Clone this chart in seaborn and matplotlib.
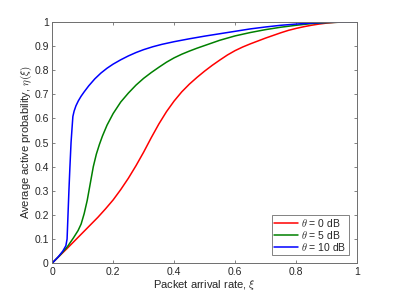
import numpy as np
import pandas as pd
import matplotlib
matplotlib.use('Agg')
import matplotlib.pyplot as plt
from matplotlib.ticker import FuncFormatter
import seaborn as sns

# 曲线数据
red_x = [0, 0.025, 0.05, 0.075, 0.1, 0.125, 0.15, 0.175, 0.2, 0.225, 0.25, 0.275,
         0.3, 0.325, 0.35, 0.375, 0.4, 0.425, 0.45, 0.475, 0.5, 0.525, 0.55, 0.575,
         0.6, 0.625, 0.65, 0.675, 0.7, 0.725, 0.75, 0.775, 0.8, 0.825, 0.85, 0.875,
         0.9, 0.925, 0.95, 1.0]
red_y = [0, 0.031, 0.062, 0.094, 0.126, 0.158, 0.19, 0.225, 0.262, 0.305, 0.352, 0.404,
         0.46, 0.52, 0.577, 0.628, 0.672, 0.71, 0.742, 0.77, 0.796, 0.82, 0.842, 0.863,
         0.881, 0.896, 0.909, 0.921, 0.933, 0.944, 0.955, 0.965, 0.973, 0.98, 0.986, 0.991,
         0.995, 0.998, 0.9995, 1.0]

green_x = [0, 0.025, 0.05, 0.07, 0.085, 0.095, 0.105, 0.115, 0.125, 0.135, 0.145, 0.155,
           0.165, 0.18, 0.2, 0.225, 0.25, 0.275, 0.3, 0.325, 0.35, 0.375, 0.4, 0.425,
           0.45, 0.475, 0.5, 0.55, 0.6, 0.65, 0.7, 0.75, 0.8, 0.85, 0.9, 0.95, 1.0]
green_y = [0, 0.032, 0.068, 0.105, 0.135, 0.162, 0.205, 0.26, 0.33, 0.4, 0.452, 0.492,
           0.527, 0.572, 0.62, 0.668, 0.705, 0.738, 0.766, 0.79, 0.812, 0.833, 0.851, 0.866,
           0.879, 0.891, 0.902, 0.924, 0.942, 0.956, 0.968, 0.978, 0.986, 0.993, 0.997,
           0.999, 1.0]

blue_x = [0, 0.02, 0.035, 0.045, 0.049, 0.052, 0.055, 0.058, 0.062, 0.065, 0.068, 0.072,
          0.078, 0.086, 0.095, 0.105, 0.12, 0.14, 0.16, 0.18, 0.2, 0.225, 0.25, 0.275,
          0.3, 0.33, 0.36, 0.4, 0.45, 0.5, 0.55, 0.6, 0.65, 0.7, 0.75, 0.8, 0.85, 0.9,
          0.95, 1.0]
blue_y = [0, 0.026, 0.05, 0.072, 0.1, 0.2, 0.3, 0.39, 0.5, 0.555, 0.608, 0.63,
          0.652, 0.673, 0.692, 0.71, 0.735, 0.764, 0.788, 0.808, 0.825, 0.843, 0.859, 0.873,
          0.885, 0.897, 0.907, 0.918, 0.93, 0.941, 0.951, 0.961, 0.971, 0.979, 0.986, 0.991,
          0.995, 0.998, 0.999, 1.0]

labels = [r'$\theta$ = 0 dB', r'$\theta$ = 5 dB', r'$\theta$ = 10 dB']
colors = ['#ff0000', '#008000', '#0000ff']

df = pd.concat([
    pd.DataFrame({'x': red_x, 'y': red_y, 'theta': labels[0]}),
    pd.DataFrame({'x': green_x, 'y': green_y, 'theta': labels[1]}),
    pd.DataFrame({'x': blue_x, 'y': blue_y, 'theta': labels[2]}),
], ignore_index=True)

sns.set_style('ticks')
plt.rcParams['font.family'] = ['Liberation Sans', 'DejaVu Sans']
plt.rcParams['mathtext.fontset'] = 'cm'

fig = plt.figure(figsize=(3.95, 2.96), dpi=100)
ax = fig.add_axes([0.132, 0.111, 0.772, 0.815])

sns.lineplot(data=df, x='x', y='y', hue='theta', palette=colors, estimator=None,
             sort=False, linewidth=1.1, ax=ax)

ax.set_xlim(0, 1)
ax.set_ylim(0, 1)
ax.set_xticks(np.arange(0, 1.01, 0.2))
ax.set_yticks(np.arange(0, 1.01, 0.1))
fmt = FuncFormatter(lambda v, p: ('%g' % round(v, 2)))
ax.xaxis.set_major_formatter(fmt)
ax.yaxis.set_major_formatter(fmt)

tc = '#262626'
sc = '#6e6e6e'
ax.tick_params(direction='in', top=True, right=True, length=2.5, width=0.6,
               labelsize=7.5, color=sc, labelcolor=tc, pad=2.5)
for s in ax.spines.values():
    s.set_visible(True)
    s.set_color(sc)
    s.set_linewidth(0.7)

ax.set_xlabel(r'Packet arrival rate, $\xi$', fontsize=8, color=tc, labelpad=1)
ax.set_ylabel(r'Average active probability, $\eta(\xi)$', fontsize=8, color=tc, labelpad=0)

leg = ax.legend(loc='lower right', bbox_to_anchor=(0.972, 0.034), borderaxespad=0,
                fontsize=7.5, fancybox=False, framealpha=1, edgecolor=sc,
                handlelength=2.3, handletextpad=0.3, labelspacing=0.0,
                borderpad=0.2, title=None)
leg.get_frame().set_linewidth(0.6)

fig.savefig('out.png', dpi=100)
